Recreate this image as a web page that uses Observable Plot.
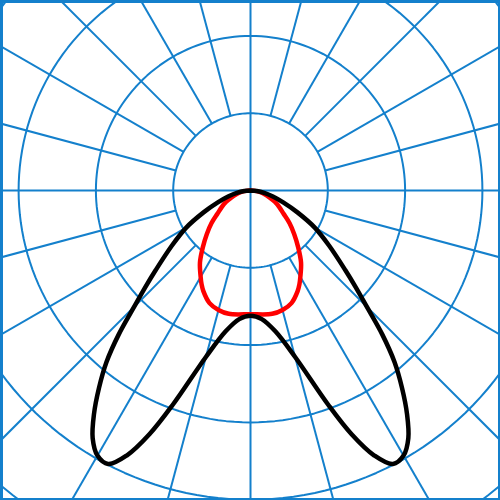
<!DOCTYPE html>
<html>
<head>
<meta charset="utf-8">
<script src="https://cdn.jsdelivr.net/npm/d3@7"></script>
<script src="https://cdn.jsdelivr.net/npm/@observablehq/plot@0.6"></script>
<style>
  html, body { margin: 0; padding: 0; background: #fff; }
  #chart svg { display: block; }
</style>
</head>
<body>
<div id="chart"></div>
<script>
// Polar photometric diagram (angle measured from nadir, 0° = straight down)
const blackAngles = [0, 5, 10, 15, 20, 22.5, 25, 27.5, 30, 32.5, 35, 37.5, 40, 42.5, 45, 47.5, 50, 55, 60, 65, 70, 75, 80, 85, 90];
const blackValues = [162, 167, 185, 223, 296, 341, 378, 399, 396, 380, 353, 322, 290, 252, 213, 184, 160, 124, 96, 67, 45, 30, 18, 8, 0];
const redAngles = [0, 10, 15, 20, 25, 27.5, 30, 35, 40, 45, 50, 55, 60, 65, 70, 75, 80, 85, 90];
const redValues = [160, 162, 160, 155, 144, 137, 129, 114, 96, 80, 66, 52, 43, 35, 26, 19, 13, 6, 0];
const ringValues = [100, 200, 300, 400, 500, 600];
const spokeAngles = d3.range(0, 360, 15);

const gridColor = "#1480cc";

function toXY(thetaDeg, r) {
  const t = thetaDeg * Math.PI / 180;
  return {x: r * Math.sin(t), y: -r * Math.cos(t)};
}

function curvePoints(name, angs, vals) {
  const pts = [];
  for (let i = angs.length - 1; i >= 0; i--) pts.push({series: name, ...toXY(-angs[i], vals[i])});
  for (let i = 1; i < angs.length; i++) pts.push({series: name, ...toXY(angs[i], vals[i])});
  return pts;
}

const ringPts = ringValues.flatMap(r => d3.range(0, 361, 2).map(a => ({ring: r, ...toXY(a, r)})));
const spokes = spokeAngles.map(a => {
  const r0 = a % 90 === 0 ? 0 : ringValues[0];
  const p0 = toXY(a, r0), p1 = toXY(a, 800);
  return {x1: p0.x, y1: p0.y, x2: p1.x, y2: p1.y};
});

const k = 0.773; // px per unit
const chart = Plot.plot({
  width: 500,
  height: 500,
  margin: 0,
  x: {domain: [-250 / k, 250 / k], axis: null},
  y: {domain: [-310 / k, 190 / k], axis: null},
  marks: [
    Plot.line(ringPts, {x: "x", y: "y", z: "ring", stroke: gridColor, strokeWidth: 2, clip: true}),
    Plot.link(spokes, {x1: "x1", y1: "y1", x2: "x2", y2: "y2", stroke: gridColor, strokeWidth: 2, clip: true}),
    Plot.line(curvePoints("red", redAngles, redValues), {x: "x", y: "y", stroke: "#ff0000", strokeWidth: 4.5, curve: "catmull-rom"}),
    Plot.line(curvePoints("black", blackAngles, blackValues), {x: "x", y: "y", stroke: "#000000", strokeWidth: 4.5, curve: "catmull-rom"}),
    Plot.frame({stroke: gridColor, strokeWidth: 5})
  ]
});
document.getElementById("chart").appendChild(chart);
</script>
</body>
</html>
